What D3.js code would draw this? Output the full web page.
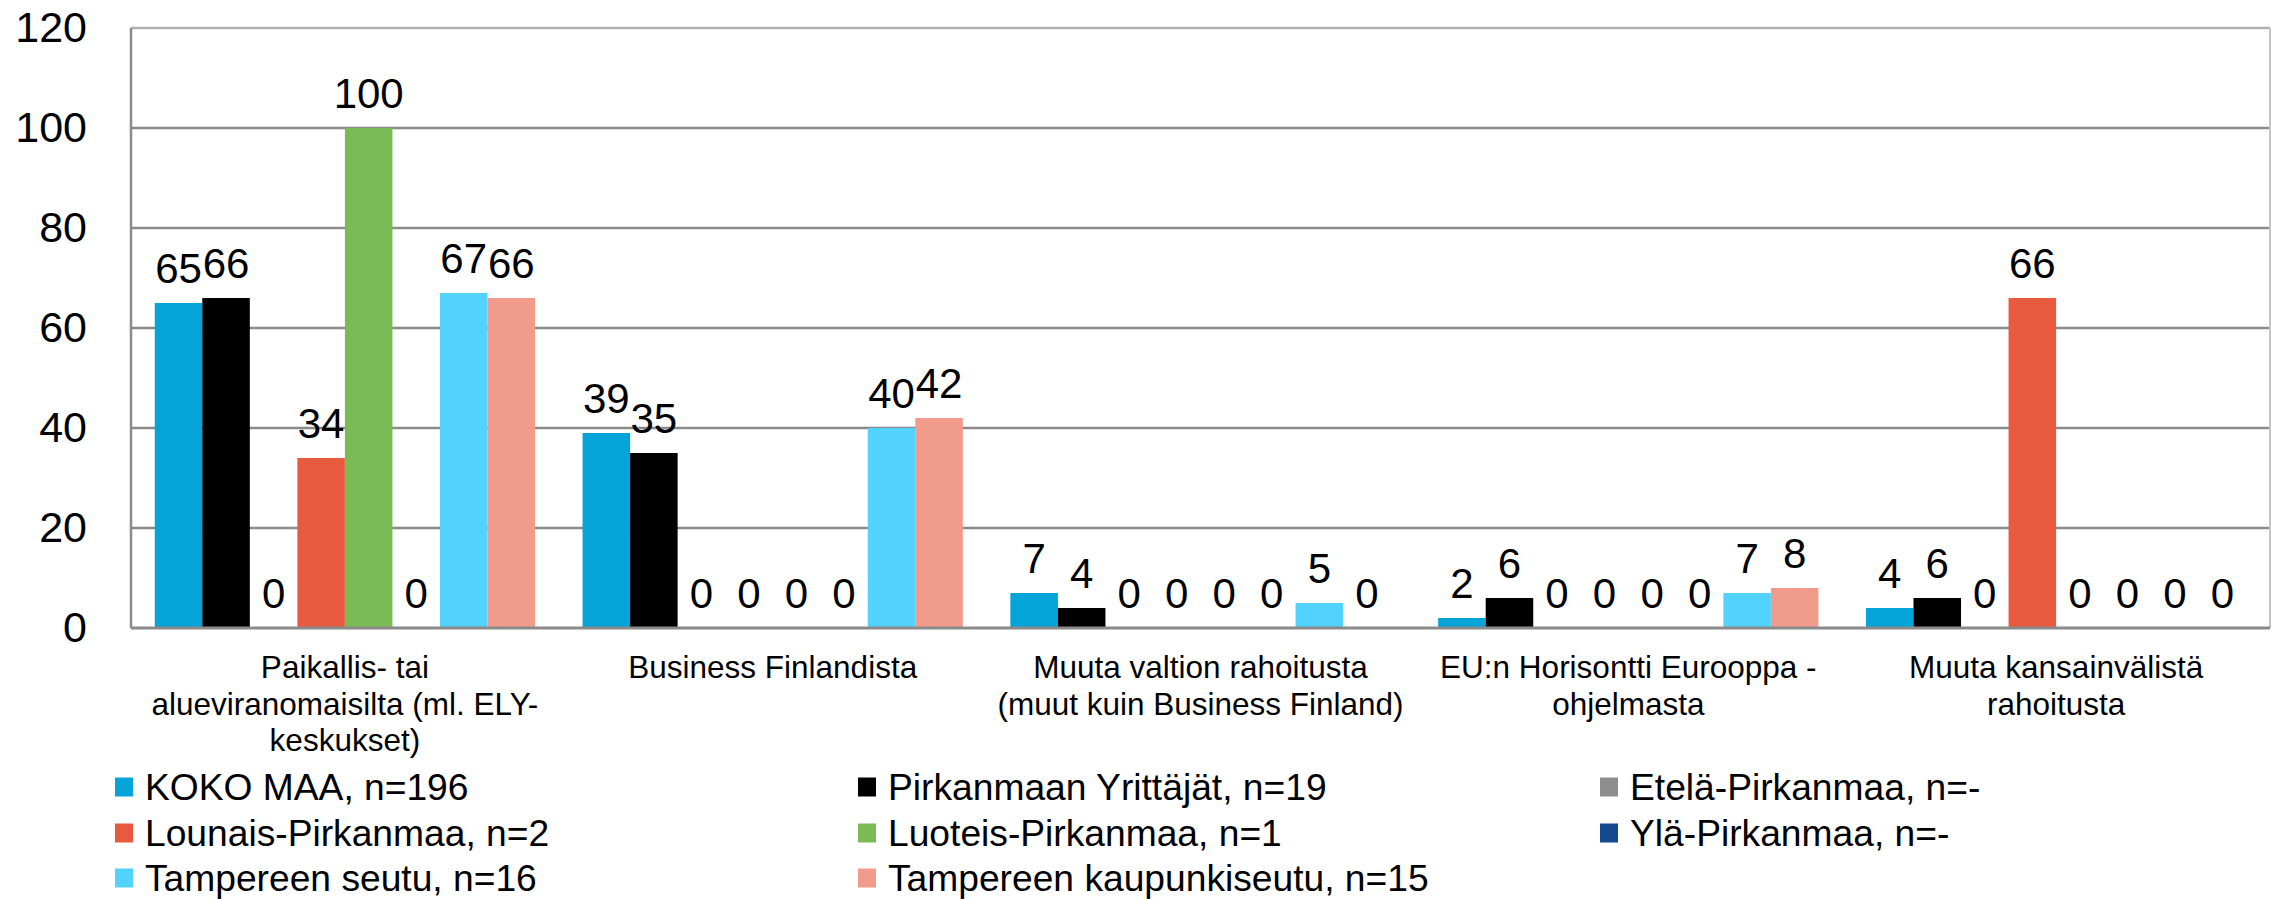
<!DOCTYPE html>
<html>
<head>
<meta charset="utf-8">
<script src="https://cdn.jsdelivr.net/npm/d3@7"></script>
<style>
  html, body { margin: 0; padding: 0; background: #ffffff; }
  svg { display: block; font-family: "Liberation Sans", Arial, sans-serif; }
</style>
</head>
<body>
<svg id="chart" width="2280" height="899"></svg>
<script>
// ---- Data ----
const categories = [
  "Paikallis- tai alueviranomaisilta (ml. ELY-keskukset)",
  "Business Finlandista",
  "Muuta valtion rahoitusta (muut kuin Business Finland)",
  "EU:n Horisontti Eurooppa -ohjelmasta",
  "Muuta kansainvälistä rahoitusta"
];
const categoryLines = [
  ["Paikallis- tai", "alueviranomaisilta (ml. ELY-", "keskukset)"],
  ["Business Finlandista"],
  ["Muuta valtion rahoitusta", "(muut kuin Business Finland)"],
  ["EU:n Horisontti Eurooppa -", "ohjelmasta"],
  ["Muuta kansainvälistä", "rahoitusta"]
];
const seriesNames = [
  "KOKO MAA, n=196",
  "Pirkanmaan Yrittäjät, n=19",
  "Etelä-Pirkanmaa, n=-",
  "Lounais-Pirkanmaa, n=2",
  "Luoteis-Pirkanmaa, n=1",
  "Ylä-Pirkanmaa, n=-",
  "Tampereen seutu, n=16",
  "Tampereen kaupunkiseutu, n=15"
];
const seriesColors = ["#04a3d8", "#000000", "#8e8e8e", "#e85a40", "#7abb55", "#134a8e", "#52d3fe", "#f19b8c"];
// values per series, one value per category
const kokoMaa        = [65, 39, 7, 2, 4];
const pirkanmaanYr   = [66, 35, 4, 6, 6];
const etelaPirkanmaa = [0, 0, 0, 0, 0];
const lounaisPirk    = [34, 0, 0, 0, 66];
const luoteisPirk    = [100, 0, 0, 0, 0];
const ylaPirkanmaa   = [0, 0, 0, 0, 0];
const tampereenSeutu = [67, 40, 5, 7, 0];
const tampereenKaup  = [66, 42, 0, 8, 0];
const seriesValues = [kokoMaa, pirkanmaanYr, etelaPirkanmaa, lounaisPirk, luoteisPirk, ylaPirkanmaa, tampereenSeutu, tampereenKaup];
const yTicks = [0, 20, 40, 60, 80, 100, 120];

// ---- Layout ----
const svg = d3.select("#chart");
const plotLeft = 131, plotRight = 2270, plotTop = 28, plotBottom = 628;

const y = d3.scaleLinear().domain([0, 120]).range([plotBottom, plotTop]);
const x0 = d3.scaleBand().domain(d3.range(categories.length)).range([plotLeft, plotRight]).paddingInner(0).paddingOuter(0);
const x1 = d3.scaleBand().domain(d3.range(seriesNames.length)).range([0, x0.bandwidth()]).paddingInner(0).paddingOuter(0.5);

// gridlines
svg.append("g")
  .selectAll("line")
  .data(yTicks.filter(t => t > 0 && t < 120))
  .join("line")
  .attr("x1", plotLeft).attr("x2", plotRight)
  .attr("y1", d => y(d)).attr("y2", d => y(d))
  .attr("stroke", "#8a8a8a").attr("stroke-width", 2.5);

// plot border
svg.append("line").attr("x1", plotLeft).attr("x2", plotRight).attr("y1", y(120)).attr("y2", y(120))
  .attr("stroke", "#b0b0b0").attr("stroke-width", 2.5);
svg.append("line").attr("x1", plotRight).attr("x2", plotRight).attr("y1", y(120)).attr("y2", y(0))
  .attr("stroke", "#c4c4c4").attr("stroke-width", 2);
svg.append("line").attr("x1", plotLeft).attr("x2", plotLeft).attr("y1", y(120)).attr("y2", y(0))
  .attr("stroke", "#8a8a8a").attr("stroke-width", 2.5);

// Y axis
const yAxis = svg.append("g")
  .attr("transform", `translate(${plotLeft},0)`)
  .call(d3.axisLeft(y).tickValues(yTicks).tickSize(0).tickPadding(44));
yAxis.select(".domain").remove();
yAxis.selectAll("text").attr("font-size", 43).attr("fill", "#000").attr("font-family", "Liberation Sans, Arial, sans-serif");

// bars
const groups = svg.append("g").selectAll("g")
  .data(categories.map((c, i) => i))
  .join("g")
  .attr("transform", i => `translate(${x0(i)},0)`);

groups.selectAll("rect")
  .data(ci => seriesValues.map((vals, si) => ({ si, v: vals[ci] })))
  .join("rect")
  .attr("x", d => x1(d.si))
  .attr("width", x1.bandwidth())
  .attr("y", d => y(d.v))
  .attr("height", d => y(0) - y(d.v))
  .attr("fill", d => seriesColors[d.si]);

groups.selectAll("text.val")
  .data(ci => seriesValues.map((vals, si) => ({ si, v: vals[ci] })))
  .join("text")
  .attr("class", "val")
  .attr("x", d => x1(d.si) + x1.bandwidth() / 2)
  .attr("y", d => y(d.v) - 20)
  .attr("text-anchor", "middle")
  .attr("font-size", 42)
  .attr("fill", "#000")
  .text(d => d.v);

// baseline axis line
svg.append("line").attr("x1", plotLeft).attr("x2", plotRight).attr("y1", y(0)).attr("y2", y(0))
  .attr("stroke", "#8a8a8a").attr("stroke-width", 3);

// X axis (category labels)
const xAxis = svg.append("g")
  .attr("transform", `translate(0,${plotBottom})`)
  .call(d3.axisBottom(x0).tickSize(0).tickFormat(() => ""));
xAxis.select(".domain").remove();
xAxis.selectAll(".tick text").each(function (i) {
  const t = d3.select(this);
  t.text(null).attr("y", 0).attr("dy", null)
    .attr("font-size", 31.5).attr("fill", "#000").attr("font-family", "Liberation Sans, Arial, sans-serif");
  categoryLines[i].forEach((line, k) => {
    t.append("tspan").attr("x", 0).attr("y", 50 + k * 36.5).text(line);
  });
});

// Legend
const legendCols = [115, 858, 1600];
const legendRows = [787, 833, 878];
const legend = svg.append("g").selectAll("g")
  .data(seriesNames.map((n, i) => i))
  .join("g")
  .attr("transform", i => `translate(${legendCols[i % 3]},${legendRows[Math.floor(i / 3)]})`);
legend.append("rect").attr("x", 0).attr("y", -9.5).attr("width", 18).attr("height", 19)
  .attr("fill", i => seriesColors[i]);
legend.append("text").attr("x", 30).attr("y", 0).attr("dy", "0.35em")
  .attr("font-size", 37.2).attr("fill", "#000")
  .text(i => seriesNames[i]);
</script>
</body>
</html>
